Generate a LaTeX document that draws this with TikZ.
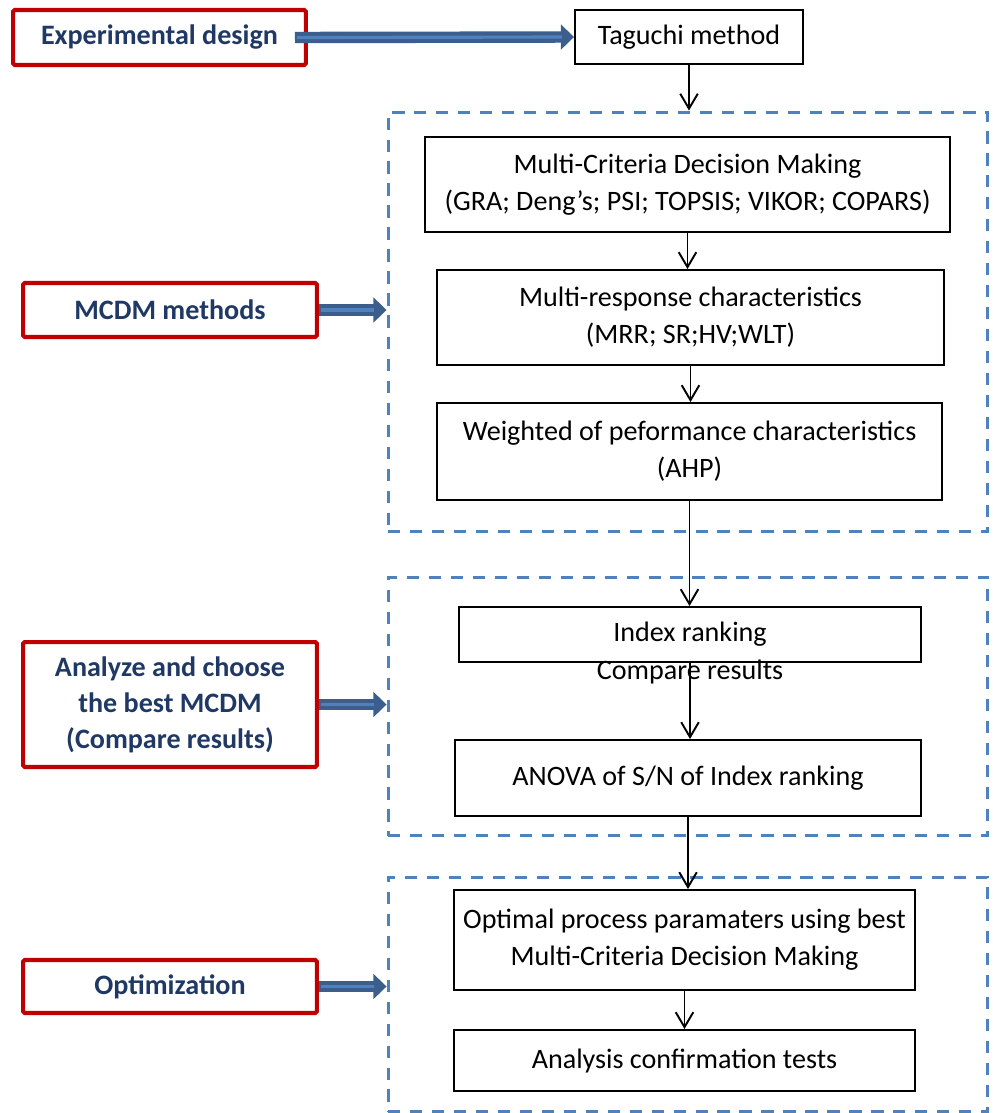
\documentclass[tikz,border=0pt]{standalone}
\usepackage{fontspec}
\setmainfont{Carlito}
\usepackage{tikz}
\usetikzlibrary{arrows.meta}
\usetikzlibrary{positioning}
\definecolor{frameRed}{HTML}{C00000}
\definecolor{dashBlue}{HTML}{4F81BD}
\definecolor{textNavy}{HTML}{1F3864}
\definecolor{arrowNavy}{HTML}{3B5E8C}
\newcommand{\colora}{frameRed}
\newcommand{\colorb}{dashBlue}
\newcommand{\colorc}{textNavy}
\newcommand{\colord}{arrowNavy}
\tikzset{
  stepnode/.style={draw=black, line width=1.1pt, align=center, inner sep=0pt,
    font=\fontsize{16}{21}\selectfont},
  sidenode/.style={draw=\colora, line width=2.3pt, rounded corners=1pt, align=center,
    inner sep=0pt, text=\colorc, minimum width=5.88cm,
    font=\fontsize{16}{20.5}\selectfont\bfseries},
  groupbox/.style={draw=\colorb, line width=1.7pt, dash pattern=on 7pt off 5.5pt,
    inner sep=0pt, minimum width=12cm},
  thinarrow/.style={line width=1.1pt, -{Straight Barb[length=8.5pt,width=10pt]}},
  fatarrow/.style={draw=\colord, line width=6.5pt, -{Triangle[length=7.5pt,width=14pt]},
    postaction={draw=\colorb, line width=1.8pt, shorten >=7pt, shorten <=1pt, -}}
}
\begin{document}
\begin{tikzpicture}[x=0.02cm, y=-0.02cm]
  \useasboundingbox (0,0) rectangle (992,1113);

  % dashed groups
  \node[groupbox, minimum height=8.4cm] (g1) at (688,322) {};
  \node[groupbox, minimum height=5.18cm] (g2) at (688,706.5) {};
  \node[groupbox, minimum height=4.7cm] (g3) at (688,994.5) {};

  % main column
  \node[stepnode, minimum width=4.56cm, minimum height=1.08cm] (tag) at (689,37) {Taguchi method};
  \node[stepnode, minimum width=10.5cm, minimum height=1.9cm] (mcdm) at (687.5,184.5)
    {Multi-Criteria Decision Making\\(GRA; Deng’s; PSI; TOPSIS; VIKOR; COPARS)};
  \node[stepnode, minimum width=10.14cm, minimum height=1.9cm] (mrc) at (690.5,317.5)
    {Multi-response characteristics\\(MRR; SR;HV;WLT)};
  \node[stepnode, minimum width=10.1cm, minimum height=1.94cm] (wpc) at (689.5,451.5)
    {Weighted of peformance characteristics\\(AHP)};
  \node[stepnode, minimum width=9.24cm, minimum height=1.1cm] (idx) at (690,634.5) {Index ranking};
  \node[font=\fontsize{16}{21}\selectfont, inner sep=0pt] (cmp) at (690,672) {Compare results};
  \node[stepnode, minimum width=9.32cm, minimum height=1.52cm] (anova) at (688,778)
    {ANOVA of S/N of Index ranking};
  \node[stepnode, minimum width=9.22cm, minimum height=2cm] (opt) at (684.5,940)
    {Optimal process paramaters using best\\Multi-Criteria Decision Making};
  \node[stepnode, minimum width=9.22cm, minimum height=1.22cm] (conf) at (684.5,1060.5)
    {Analysis confirmation tests};

  % side column
  \node[sidenode, minimum width=5.86cm, minimum height=1.1cm] (ed) at (159.5,37.5) {Experimental design};
  \node[sidenode, minimum height=1.08cm] (mm) at (170,310) {MCDM methods};
  \node[sidenode, minimum height=2.5cm] (ac) at (170,704.5)
    {Analyze and choose\\the best MCDM\\(Compare results)};
  \node[sidenode, minimum height=1.06cm] (op) at (170,986.5) {Optimization};

  % connectors
  \draw[thinarrow] (tag.south) -- (tag.south |- g1.north);
  \foreach \a/\b in {mcdm/mrc, mrc/wpc, wpc/idx, idx/anova, anova/opt, opt/conf}{
    \draw[thinarrow] (\a.south) -- (\a.south |- \b.north);
  }
  \draw[fatarrow] ([xshift=-0.26cm]ed.east) -- (tag.west);
  \foreach \s/\g in {mm/g1, ac/g2, op/g3}{
    \draw[fatarrow] (\s.east) -- (\s.east -| \g.west);
  }
\end{tikzpicture}
\end{document}
